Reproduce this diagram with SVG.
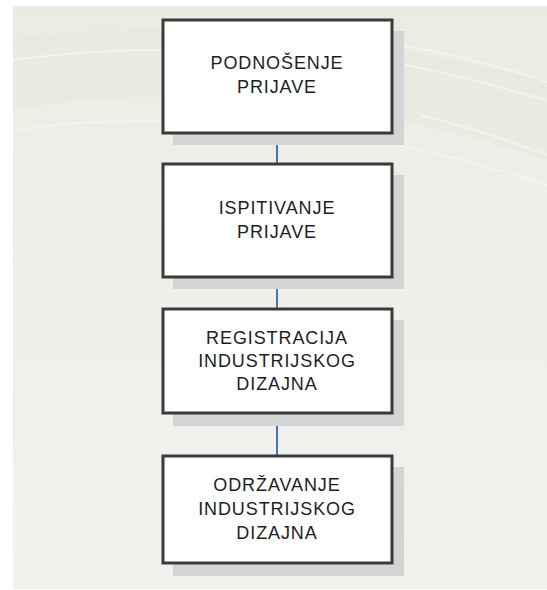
<svg xmlns="http://www.w3.org/2000/svg" width="547" height="590" viewBox="0 0 547 590">
  <defs>
    <linearGradient id="bg" x1="0" y1="0" x2="0" y2="1">
      <stop offset="0" stop-color="#ecebe2"/>
      <stop offset="0.3" stop-color="#efefe9"/>
      <stop offset="1" stop-color="#f1f1ee"/>
    </linearGradient>
    <style>
      .box { fill: #ffffff; stroke: #3a3a3a; stroke-width: 3; }
      .shadow { fill: #d3d5d5; }
      .lbl { font-family: "Liberation Sans", Arial, sans-serif; font-size: 18px; fill: #1e1e1e; text-anchor: middle; letter-spacing: 0.9px; }
      .conn { stroke: #4472c4; stroke-width: 2; fill: none; }
      .wave { fill: none; stroke: #f7f7f2; stroke-width: 2; opacity: 0.7; }
    </style>
  </defs>

  <rect x="0" y="0" width="547" height="590" fill="#ffffff"/>
  <rect x="13" y="6" width="534" height="583" fill="url(#bg)"/>
  <g id="background-waves">
    <path d="M13 40 C 150 20, 300 25, 547 80" fill="#e9e9dd" opacity="0.6"/>
    <path d="M13 110 C 180 80, 360 100, 547 160 L 547 80 C 300 25, 150 20, 13 40 Z" fill="#e8e8db" opacity="0.5"/>
    <path class="wave" d="M400 45 C 460 55, 510 70, 547 82"/>
    <path class="wave" d="M390 62 C 450 72, 500 88, 547 100"/>
    <path class="wave" d="M13 60 C 120 45, 250 45, 400 70"/>
    <path class="wave" d="M420 115 C 480 130, 520 145, 547 155"/>
    <path class="wave" d="M13 130 C 150 110, 350 120, 547 185"/>
  </g>

  <g id="connectors">
    <line class="conn" x1="277" y1="133" x2="277" y2="163"/>
    <line class="conn" x1="277" y1="277" x2="277" y2="308"/>
    <line class="conn" x1="277" y1="413" x2="277" y2="455"/>
  </g>

  <g id="node1">
    <rect class="shadow" x="173" y="31" width="231" height="114"/>
    <rect class="box" x="163" y="20" width="229" height="113"/>
    <text class="lbl" x="277" y="69">PODNOŠENJE</text>
    <text class="lbl" x="277" y="93">PRIJAVE</text>
  </g>

  <g id="node2">
    <rect class="shadow" x="173" y="175" width="231" height="114"/>
    <rect class="box" x="163" y="164" width="229" height="113"/>
    <text class="lbl" x="277" y="214">ISPITIVANJE</text>
    <text class="lbl" x="277" y="238">PRIJAVE</text>
  </g>

  <g id="node3">
    <rect class="shadow" x="173" y="320" width="231" height="106"/>
    <rect class="box" x="163" y="309" width="229" height="104"/>
    <text class="lbl" x="277" y="344">REGISTRACIJA</text>
    <text class="lbl" x="277" y="367">INDUSTRIJSKOG</text>
    <text class="lbl" x="277" y="390">DIZAJNA</text>
  </g>

  <g id="node4">
    <rect class="shadow" x="173" y="467" width="231" height="109"/>
    <rect class="box" x="163" y="456" width="229" height="107"/>
    <text class="lbl" x="277" y="491">ODRŽAVANJE</text>
    <text class="lbl" x="277" y="515">INDUSTRIJSKOG</text>
    <text class="lbl" x="277" y="539">DIZAJNA</text>
  </g>
</svg>
